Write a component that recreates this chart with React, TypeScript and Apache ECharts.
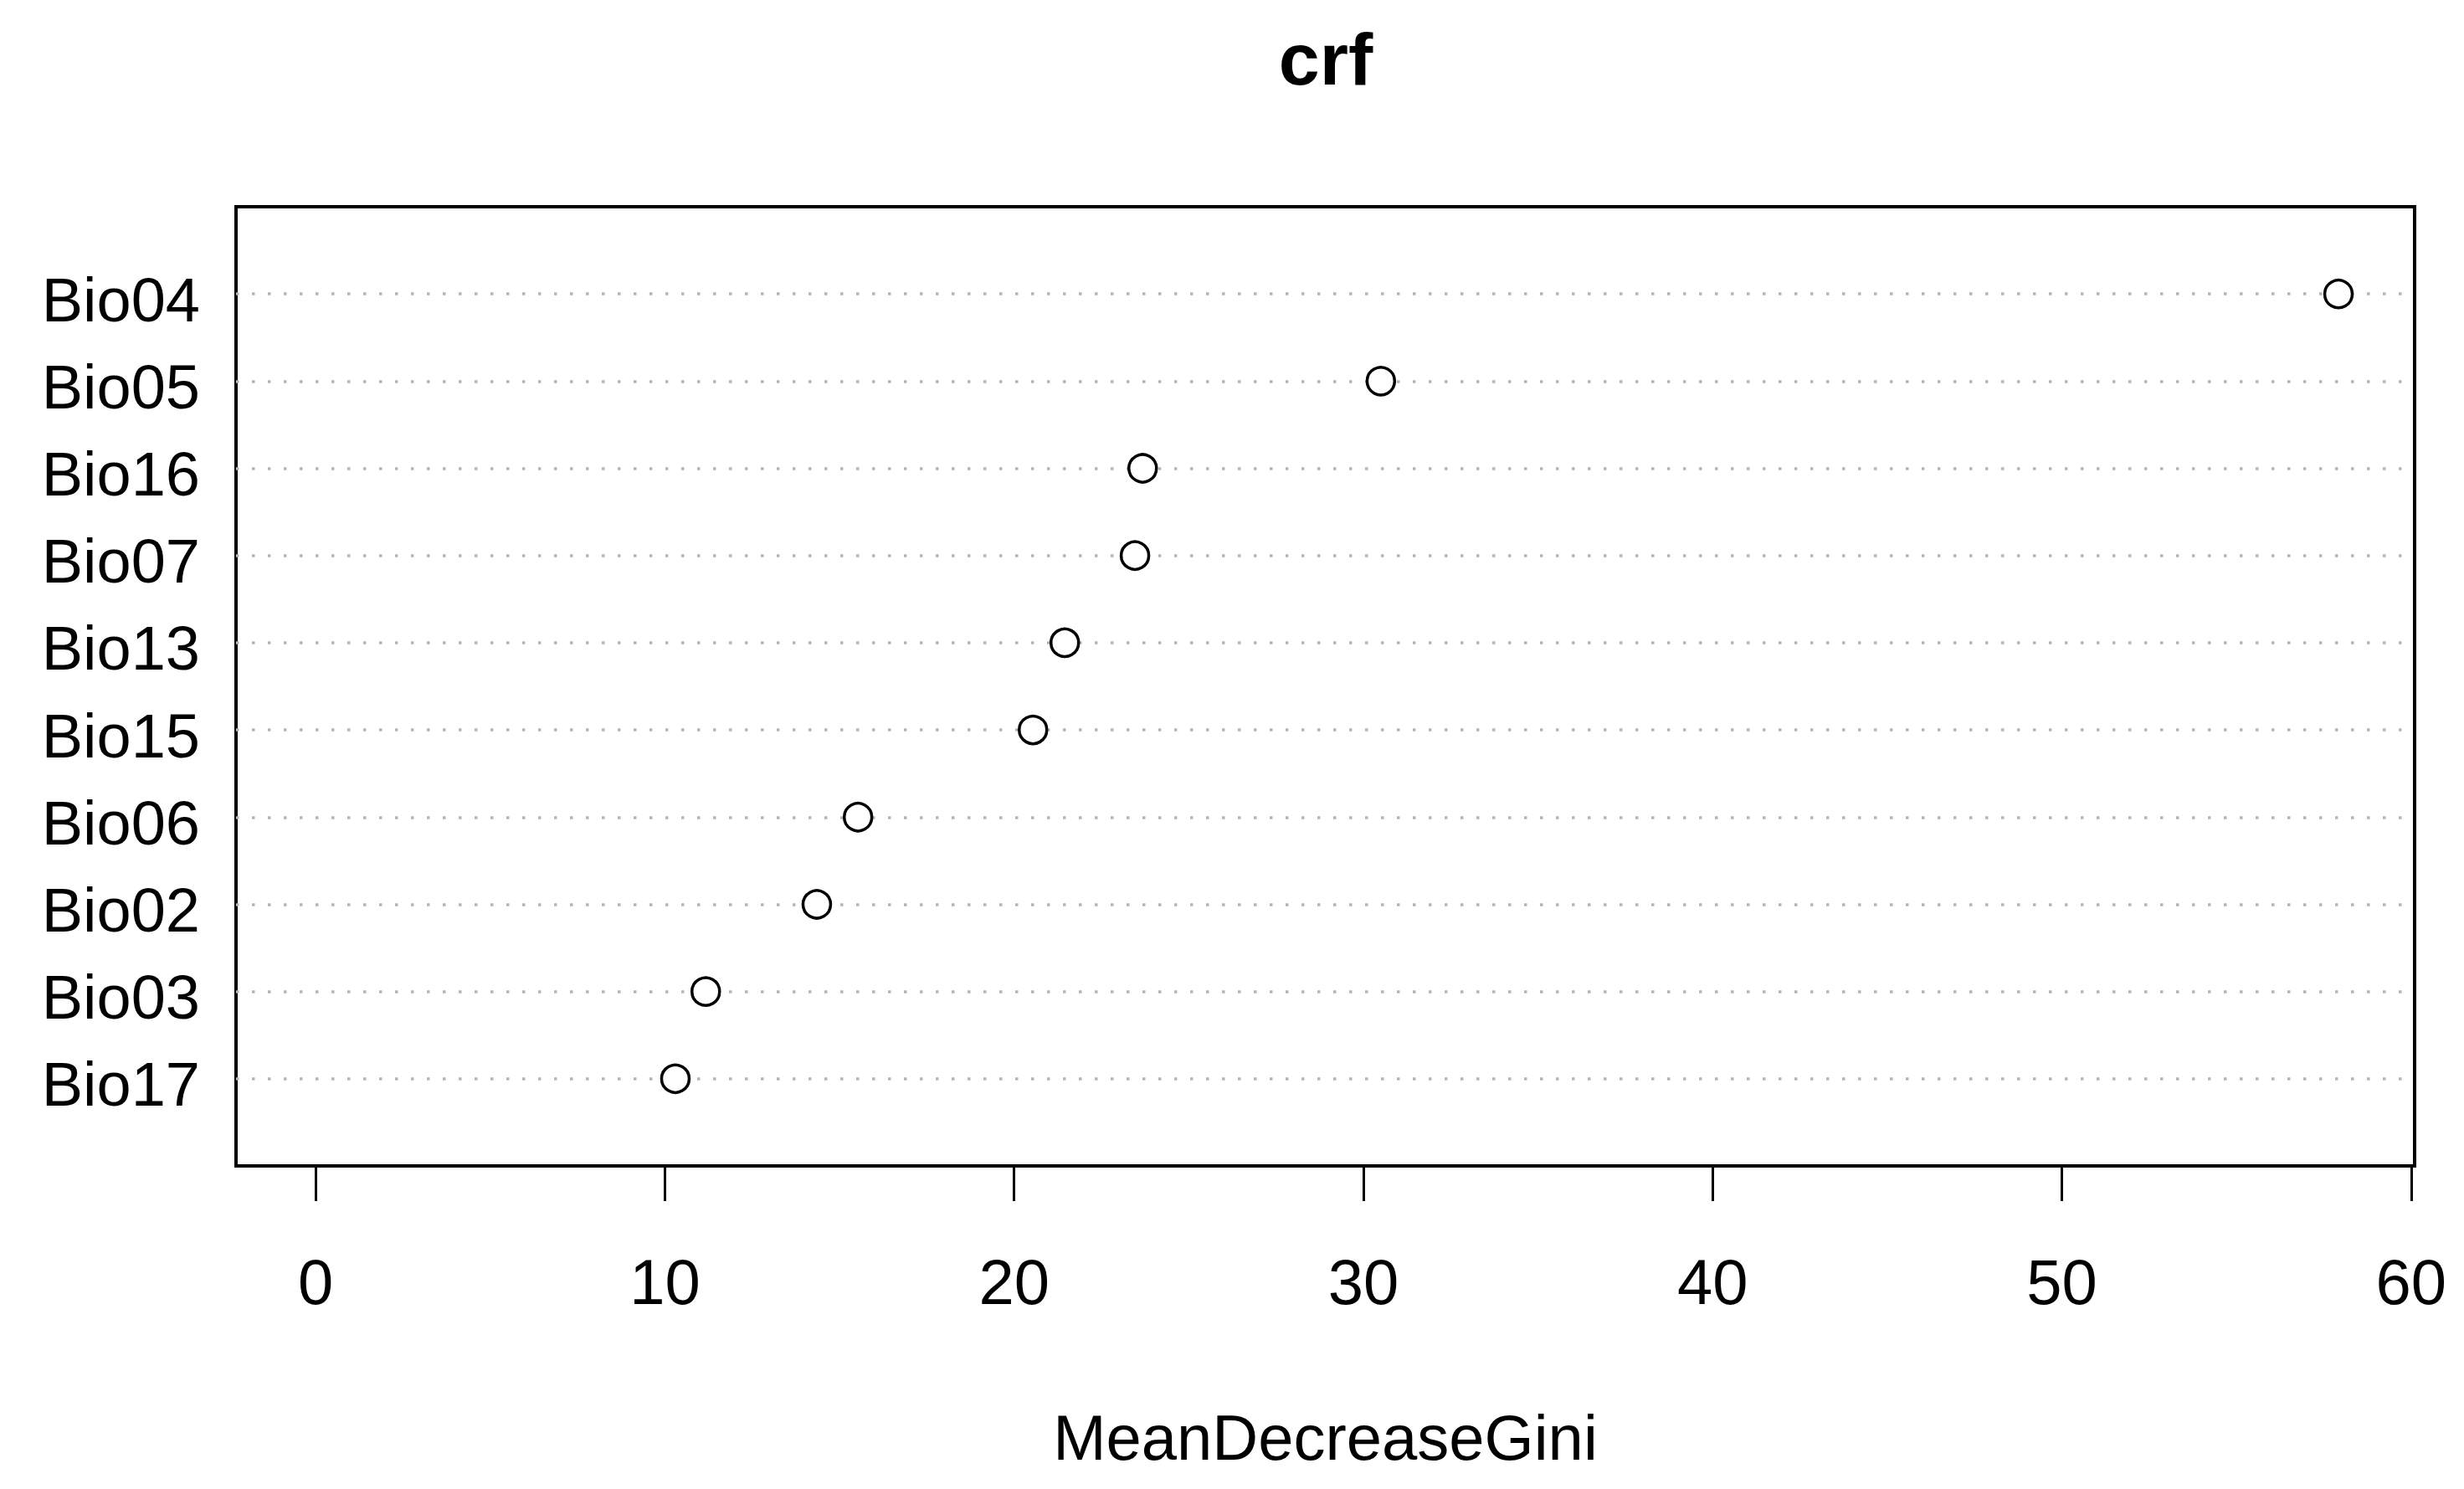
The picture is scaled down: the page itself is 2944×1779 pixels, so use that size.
import React, { useEffect, useRef } from "react";
import * as echarts from "echarts";

// Variables from top to bottom, as in the chart
const categories = ["Bio04", "Bio05", "Bio16", "Bio07", "Bio13", "Bio15", "Bio06", "Bio02", "Bio03", "Bio17"];
const meanDecreaseGini = [57.92, 30.5, 23.68, 23.46, 21.45, 20.54, 15.53, 14.35, 11.17, 10.3];
const xTicks = [0, 10, 20, 30, 40, 50, 60];
const titleText = "crf";
const xTitle = "MeanDecreaseGini";

const FONT = "'Liberation Sans', Arial, sans-serif";

export default function App() {
  const ref = useRef<HTMLDivElement>(null);

  useEffect(() => {
    if (!ref.current) return;
    const chart = echarts.init(ref.current, undefined, { renderer: "svg" });

    // bottom-to-top order for the y category axis, padded with empty slots (R ylim = 0..n+1)
    const yCats = ["", ...categories.slice().reverse(), ""];
    const data = categories.map((c, i) => [meanDecreaseGini[i], c]);

    chart.setOption({
      animation: false,
      backgroundColor: "#ffffff",
      grid: {
        left: 282,
        right: 59,
        top: 247,
        bottom: 386,
        show: true,
        borderColor: "#000000",
        borderWidth: 4,
        backgroundColor: "transparent",
      },
      graphic: [
        {
          type: "text",
          x: 1584,
          y: 70,
          style: {
            text: titleText,
            fontFamily: FONT,
            fontSize: 88,
            fontWeight: "bold",
            fill: "#000000",
            textAlign: "center",
            verticalAlign: "middle",
          },
        },
      ],
      xAxis: {
        type: "value",
        min: -2.28,
        max: 60.1,
        name: xTitle,
        nameLocation: "middle",
        nameGap: 286,
        nameTextStyle: { fontFamily: FONT, fontSize: 76, color: "#000000" },
        axisLine: { show: false },
        splitLine: { show: false },
        axisTick: {
          show: true,
          customValues: xTicks,
          length: 42,
          inside: false,
          lineStyle: { color: "#000000", width: 3 },
        },
        axisLabel: {
          customValues: xTicks,
          margin: 100,
          fontFamily: FONT,
          fontSize: 76,
          color: "#000000",
        },
      },
      yAxis: {
        type: "category",
        data: yCats,
        boundaryGap: false,
        axisLine: { show: false },
        axisTick: { show: false },
        axisLabel: {
          interval: 0,
          margin: 43,
          verticalAlign: "top",
          lineHeight: 14,
          fontFamily: FONT,
          fontSize: 74,
          color: "#000000",
        },
        splitLine: {
          show: true,
          interval: (index: number, value: string) => value !== "",
          lineStyle: { color: "#b9b4b4", width: 3.5, type: [3.5, 15.5] },
        },
      },
      series: [
        {
          type: "scatter",
          data,
          symbol: "circle",
          symbolSize: 33,
          itemStyle: { color: "#ffffff", borderColor: "#000000", borderWidth: 3.5, opacity: 1 },
          emphasis: { disabled: true },
          z: 5,
        },
      ],
    });

    return () => chart.dispose();
  }, []);

  return (
    <div
      ref={ref}
      style={{ position: "fixed", left: 0, top: 0, width: 2944, height: 1779, background: "#fff" }}
    />
  );
}
